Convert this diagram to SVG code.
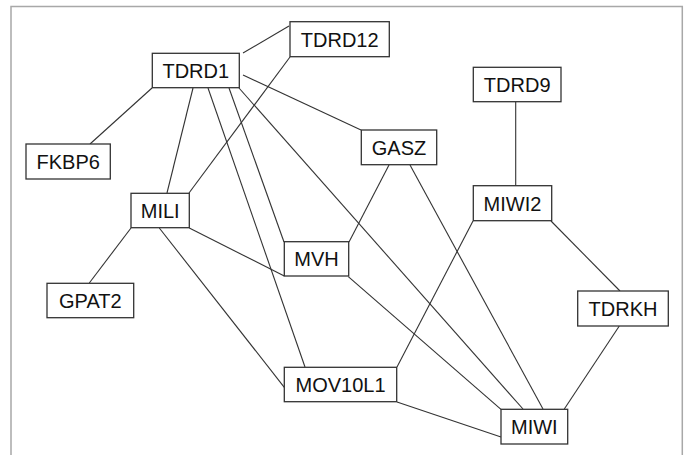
<svg xmlns="http://www.w3.org/2000/svg" width="684" height="455" viewBox="0 0 684 455">
<style>
.frame{fill:none;stroke:#a8a8a8;stroke-width:1.5}
.edge{stroke:#333;stroke-width:1.1;fill:none}
.node rect{fill:#fff;stroke:#333;stroke-width:1.3}
.node text{font-family:"Liberation Sans",Arial,sans-serif;font-size:20px;fill:#111;text-anchor:middle;dominant-baseline:central}
</style>
<rect width="684" height="455" fill="#fff"/>
<path class="frame" d="M11,460 V6.5 H682.3 V460"/>
<g id="connectors">
<line class="edge" x1="243" y1="53" x2="289" y2="26"/>
<line class="edge" x1="152" y1="88" x2="90" y2="144"/>
<line class="edge" x1="193" y1="88" x2="167" y2="193"/>
<line class="edge" x1="208" y1="88" x2="305" y2="367"/>
<line class="edge" x1="229" y1="88" x2="284" y2="242"/>
<line class="edge" x1="239" y1="88" x2="523" y2="409"/>
<line class="edge" x1="243" y1="75" x2="361" y2="130"/>
<line class="edge" x1="290" y1="57" x2="189" y2="193"/>
<line class="edge" x1="389" y1="165" x2="349" y2="242"/>
<line class="edge" x1="410" y1="165" x2="543" y2="409"/>
<line class="edge" x1="515.7" y1="102" x2="515.7" y2="186"/>
<line class="edge" x1="473" y1="221" x2="397" y2="367"/>
<line class="edge" x1="551" y1="221" x2="620" y2="291"/>
<line class="edge" x1="619.3" y1="326" x2="564.3" y2="409"/>
<line class="edge" x1="397" y1="402" x2="501" y2="437"/>
<line class="edge" x1="131" y1="228" x2="89.3" y2="283"/>
<line class="edge" x1="189.3" y1="228" x2="284.3" y2="276"/>
<line class="edge" x1="159.3" y1="228" x2="284.3" y2="387.3"/>
<line class="edge" x1="348.3" y1="276.7" x2="501" y2="409.3"/>
</g>
<g id="TDRD1" class="node"><rect x="152.3" y="53.3" width="87" height="34.4"/><text x="195.8" y="71">TDRD1</text></g>
<g id="TDRD12" class="node"><rect x="290" y="21.7" width="99.3" height="35"/><text x="339.7" y="39.5">TDRD12</text></g>
<g id="FKBP6" class="node"><rect x="26" y="144" width="84.3" height="35"/><text x="68.2" y="161.8">FKBP6</text></g>
<g id="GASZ" class="node"><rect x="361.3" y="130" width="75.4" height="34.7"/><text x="399" y="147.8">GASZ</text></g>
<g id="TDRD9" class="node"><rect x="473.3" y="67.3" width="87.7" height="34.4"/><text x="517.2" y="85">TDRD9</text></g>
<g id="MIWI2" class="node"><rect x="473.3" y="185.7" width="78.4" height="35"/><text x="512.5" y="203.5">MIWI2</text></g>
<g id="MILI" class="node"><rect x="131" y="193.3" width="58.3" height="34.4"/><text x="160.2" y="211">MILI</text></g>
<g id="MVH" class="node"><rect x="284.3" y="241.7" width="64.4" height="34.3"/><text x="316.5" y="259.3">MVH</text></g>
<g id="GPAT2" class="node"><rect x="47" y="283.3" width="86.7" height="34.4"/><text x="90.3" y="301">GPAT2</text></g>
<g id="MOV10L1" class="node"><rect x="284.3" y="367.3" width="112.4" height="34.4"/><text x="340.5" y="385">MOV10L1</text></g>
<g id="TDRKH" class="node"><rect x="577.7" y="291" width="90.6" height="35"/><text x="623" y="308.8">TDRKH</text></g>
<g id="MIWI" class="node"><rect x="501" y="409.3" width="66.7" height="34.7"/><text x="534.3" y="427">MIWI</text></g>
</svg>
